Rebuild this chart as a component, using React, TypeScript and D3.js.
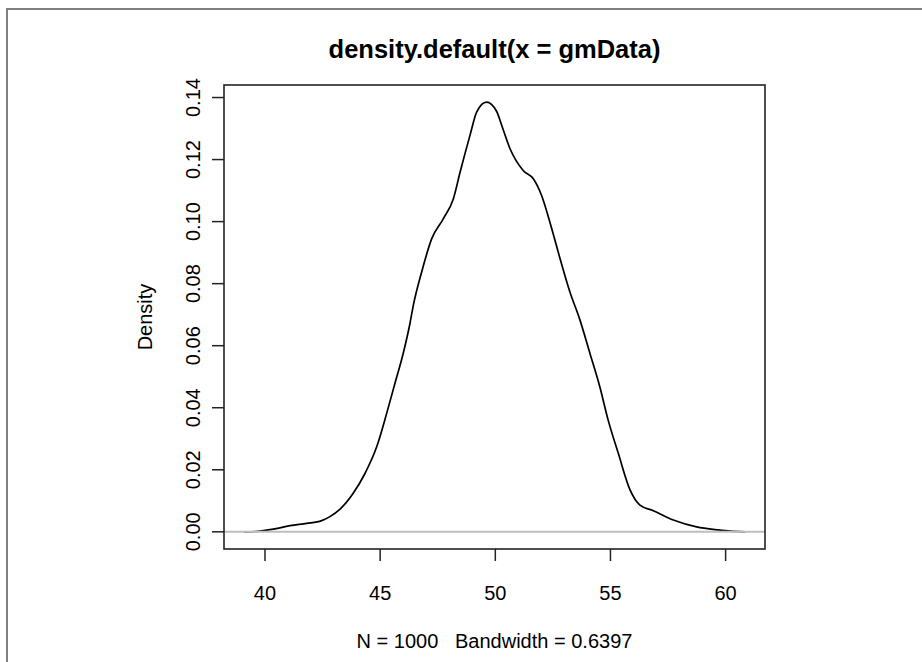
import React from 'react';
import * as d3 from 'd3';

// density estimate (x value, density)
const gridX = [
  39.09, 39.6, 40.14, 40.6, 41.09, 41.81, 42.46, 42.82, 43.26, 43.83, 44.34, 44.85,
  45.28, 45.64, 46.0, 46.29, 46.44, 46.8, 47.24, 47.74, 48.18, 48.47, 48.9, 49.19,
  49.62, 50.06, 50.28, 50.64, 51.21, 51.65, 52.01, 52.37, 52.81, 53.24, 53.67, 54.11,
  54.54, 54.9, 55.34, 55.85, 56.28, 56.86, 57.73, 58.74, 59.68, 60.2, 60.84,
];
const densityY = [
  0.0, 0.0001, 0.0006, 0.0012, 0.002, 0.0027, 0.0036, 0.0049, 0.0073, 0.0124, 0.0188, 0.0274,
  0.0381, 0.0478, 0.0575, 0.067, 0.073, 0.0837, 0.0945, 0.1009, 0.1074, 0.1159, 0.1278, 0.1353,
  0.1385, 0.1355, 0.131, 0.1235, 0.1165, 0.1138, 0.1084, 0.0998, 0.0881, 0.0773, 0.0684, 0.0575,
  0.0467, 0.036, 0.0253, 0.0135, 0.0086, 0.0068, 0.0038, 0.0016, 0.0006, 0.0002, 0.0,
];
const xTicks = [40, 45, 50, 55, 60];
const yTicks = [0, 0.02, 0.04, 0.06, 0.08, 0.1, 0.12, 0.14];
const title = 'density.default(x = gmData)';
const yLabel = 'Density';
const xLabel = 'N = 1000   Bandwidth = 0.6397';

const W = 922;
const H = 662;
const box = { left: 224, right: 765, top: 85, bottom: 549 };
const font = '"Liberation Sans", Arial, Helvetica, sans-serif';

export default function App() {
  // R style limits: data range padded by 4% on each side
  const [x0, x1] = d3.extent(gridX) as [number, number];
  const padX = (x1 - x0) * 0.04;
  const yMax = d3.max(densityY) as number;

  const x = d3.scaleLinear().domain([x0 - padX, x1 + padX]).range([box.left, box.right]);
  const y = d3.scaleLinear().domain([-0.04 * yMax, 1.04 * yMax]).range([box.bottom, box.top]);

  const points = gridX.map((v, i) => [v, densityY[i]] as [number, number]);
  const line = d3.line<[number, number]>()
    .x(d => x(d[0]))
    .y(d => y(d[1]))
    .curve(d3.curveMonotoneX);

  const midY = (box.top + box.bottom) / 2;
  const midX = (box.left + box.right) / 2;

  return (
    <svg width={W} height={H} style={{ position: 'absolute', left: 0, top: 0, background: '#fff' }} fontFamily={font}>
      {/* outer frame */}
      <rect x={7} y={9} width={W + 20} height={H + 20} fill="none" stroke="#808080" strokeWidth={2} />

      <text x={midX} y={58} textAnchor="middle" fontSize={25.5} fontWeight="bold">{title}</text>

      {/* density curve, then the zero line on top as R does */}
      <path d={line(points) || ''} fill="none" stroke="#000" strokeWidth={1.7} />
      <line x1={box.left} x2={box.right} y1={y(0)} y2={y(0)} stroke="#bebebe" strokeWidth={2} />

      <rect x={box.left} y={box.top} width={box.right - box.left} height={box.bottom - box.top}
        fill="none" stroke="#222" strokeWidth={1.6} />

      {xTicks.map(t => (
        <g key={t}>
          <line x1={x(t)} x2={x(t)} y1={box.bottom} y2={box.bottom + 12} stroke="#222" strokeWidth={1.5} />
          <text x={x(t)} y={600} textAnchor="middle" fontSize={20}>{t}</text>
        </g>
      ))}

      {yTicks.map(t => (
        <g key={t}>
          <line x1={box.left - 12} x2={box.left} y1={y(t)} y2={y(t)} stroke="#222" strokeWidth={1.5} />
          <text transform={`translate(${box.left - 24},${y(t)}) rotate(-90)`} textAnchor="middle" fontSize={20}>
            {t.toFixed(2)}
          </text>
        </g>
      ))}

      <text transform={`translate(${box.left - 72},${midY}) rotate(-90)`} textAnchor="middle" fontSize={20}>{yLabel}</text>
      <text x={midX} y={648} textAnchor="middle" fontSize={20} style={{ whiteSpace: 'pre' }}>{xLabel}</text>
    </svg>
  );
}
